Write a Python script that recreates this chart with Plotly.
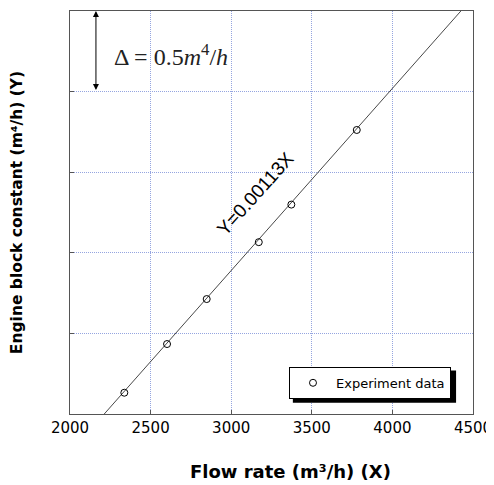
import plotly.graph_objects as go

# Data
flow_rate = [2337, 2602, 2848, 3171, 3373, 3779]
block_constant = [2.632, 2.934, 3.213, 3.566, 3.799, 4.262]
fit_slope = 0.00113
fit_x = [2000, 4500]
fit_y = [fit_slope * v for v in fit_x]
x_ticks = [2000, 2500, 3000, 3500, 4000, 4500]
y_ticks = [2.5, 3.0, 3.5, 4.0, 4.5, 5.0]

FONT = "DejaVu Sans"
GRID = "#95a5e0"

fig = go.Figure()
fig.add_trace(go.Scatter(
    x=fit_x, y=fit_y, mode="lines",
    line=dict(color="#333333", width=0.9),
    showlegend=False, hoverinfo="skip"))
fig.add_trace(go.Scatter(
    x=flow_rate, y=block_constant, mode="markers",
    marker=dict(symbol="circle-open", size=7, color="black",
                line=dict(width=1, color="black")),
    name="Experiment data"))

fig.add_annotation(
    x=3150, y=3.87, xref="x", yref="y",
    text="Y=0.00113X", showarrow=False, textangle=-48,
    font=dict(family="Liberation Sans", size=19, color="black"))

# delta arrow (double-headed)
fig.add_annotation(
    x=2161, y=5.0, ax=2161, ay=4.5, xref="x", yref="y", axref="x", ayref="y",
    text="", showarrow=True, arrowhead=2, startarrowhead=2, arrowside="end+start",
    arrowsize=1.2, arrowwidth=1, arrowcolor="black")
fig.add_annotation(
    x=2262, y=4.73, xref="x", yref="y", xanchor="left", yanchor="middle",
    text="Δ = 0.5<i>m</i><sup>4</sup>/<i>h</i>", showarrow=False,
    font=dict(family="Liberation Serif", size=24, color="#222222"))

# x-axis title
fig.add_annotation(
    x=0.546, y=-0.143, xref="paper", yref="paper", xanchor="center", yanchor="middle",
    text="<b>Flow rate (m³/h) (X)</b>", showarrow=False,
    font=dict(family=FONT, size=18, color="black"))

# legend shadow
fig.add_shape(type="rect", xref="paper", yref="paper",
              x0=0.553, x1=0.958, y0=0.028, y1=0.108,
              fillcolor="black", line=dict(width=0), layer="above")

# the page body adds an 8px offset, so the figure is shifted by 8px
fig.update_layout(
    width=486, height=477,
    margin=dict(l=62, r=21, t=3, b=71),
    paper_bgcolor="white", plot_bgcolor="white",
    font=dict(family=FONT, color="black"),
    showlegend=True,
    legend=dict(x=0.5434, y=0.117, xanchor="left", yanchor="top",
                bgcolor="white", bordercolor="black", borderwidth=1,
                itemwidth=36,
                font=dict(family=FONT, size=13, color="black")),
    xaxis=dict(range=[2000, 4500], tickvals=x_ticks, automargin=False,
               ticks="inside", ticklen=4, tickcolor="#555555",
               showline=True, linecolor="#555555", linewidth=1, mirror=True,
               showgrid=True, gridcolor=GRID, griddash="1px,1px", gridwidth=1,
               zeroline=False, tickfont=dict(family=FONT, size=15)),
    yaxis=dict(range=[2.5, 5.0], tickvals=y_ticks, showticklabels=False,
               automargin=False,
               ticks="inside", ticklen=4, tickcolor="#555555",
               showline=True, linecolor="#555555", linewidth=1, mirror=True,
               showgrid=True, gridcolor=GRID, griddash="1px,1px", gridwidth=1,
               zeroline=False,
               title=dict(text="<b>Engine block constant (m⁴/h) (Y)</b>",
                          font=dict(family=FONT, size=15.5), standoff=42)),
)

fig.write_html("out.html")
